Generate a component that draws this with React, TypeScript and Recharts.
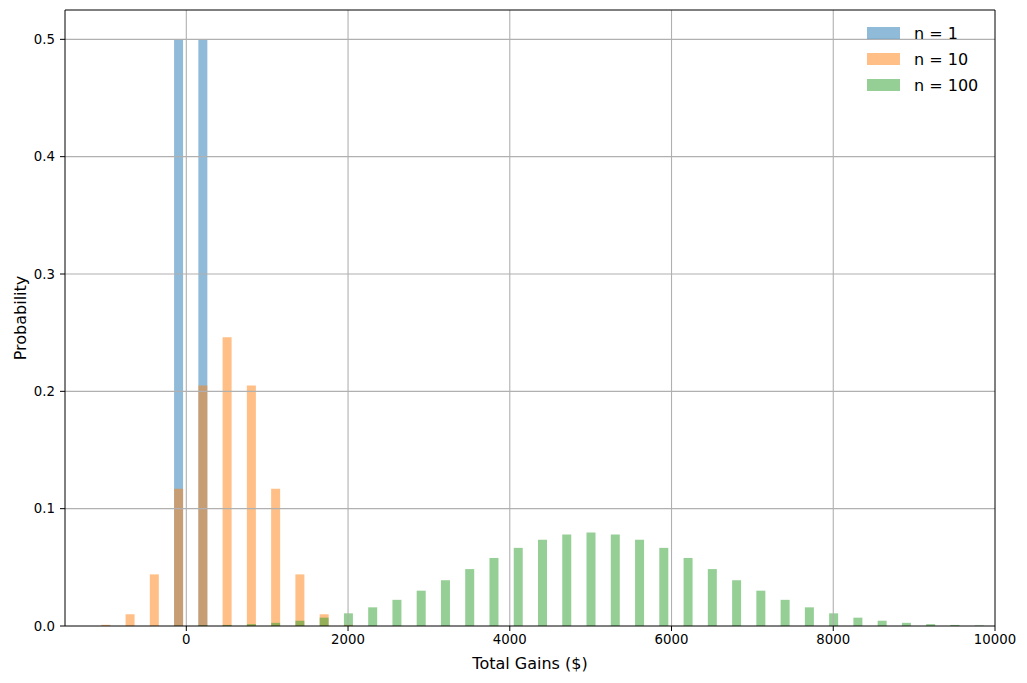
import { ComposedChart, Bar, XAxis, YAxis, ReferenceLine } from 'recharts';

// total gains for a single play
const n1Gains = [-100, 200];
const n1Prob = [0.5, 0.5];

// total gains after 10 plays
const n10Gains = [-1000, -700, -400, -100, 200, 500, 800, 1100, 1400, 1700, 2000];
const n10Prob = [0.001, 0.01, 0.044, 0.117, 0.205, 0.246, 0.205, 0.117, 0.044, 0.01, 0.001];

// total gains after 100 plays
const n100Gains = [
    -100, 200, 500, 800, 1100, 1400, 1700, 2000, 2300, 2600, 2900, 3200, 3500, 3800, 4100, 4400, 4700,
    5000, 5300, 5600, 5900, 6200, 6500, 6800, 7100, 7400, 7700, 8000, 8300, 8600, 8900, 9200, 9500, 9800,
];
const n100Prob = [
    0.0002, 0.0005, 0.0009, 0.0016, 0.0027, 0.0045, 0.0071, 0.0108, 0.0159, 0.0223, 0.0301, 0.039, 0.0485,
    0.058, 0.0666, 0.0735, 0.078, 0.0796, 0.078, 0.0735, 0.0666, 0.058, 0.0485, 0.039, 0.0301, 0.0223,
    0.0159, 0.0108, 0.0071, 0.0045, 0.0027, 0.0016, 0.0009, 0.0005,
];

const xTicks = [0, 2000, 4000, 6000, 8000, 10000];
const yTicks = [0, 0.1, 0.2, 0.3, 0.4, 0.5];
const X_DOMAIN: [number, number] = [-1500, 10000];
const Y_DOMAIN: [number, number] = [0, 0.525];

const SERIES = [
    { key: 'n1', label: 'n = 1', color: '#1f77b4' },
    { key: 'n10', label: 'n = 10', color: '#ff7f0e' },
    { key: 'n100', label: 'n = 100', color: '#2ca02c' },
];

const FONT = "'DejaVu Sans', sans-serif";
const GRID = '#b0b0b0';

function buildRows() {
    const rows: Record<number, { x: number; n1?: number; n10?: number; n100?: number }> = {};
    const put = (xs: number[], ps: number[], key: 'n1' | 'n10' | 'n100') => {
        xs.forEach((x, i) => {
            if (!rows[x]) rows[x] = { x };
            rows[x][key] = ps[i];
        });
    };
    put(n1Gains, n1Prob, 'n1');
    put(n10Gains, n10Prob, 'n10');
    put(n100Gains, n100Prob, 'n100');
    return Object.values(rows).sort((a, b) => a.x - b.x);
}

const data = buildRows();

export default function App() {
    return (
        <div style={{ position: 'absolute', left: 0, top: 0, width: 1027, height: 683, background: '#fff', fontFamily: FONT }}>
            <ComposedChart
                width={1027}
                height={683}
                data={data}
                margin={{ top: 10, right: 32, bottom: 27, left: 0 }}
                style={{ fontFamily: FONT }}
            >
                <XAxis
                    xAxisId="main"
                    dataKey="x"
                    type="number"
                    domain={X_DOMAIN}
                    allowDataOverflow
                    ticks={xTicks}
                    interval={0}
                    height={30}
                    tickSize={5}
                    tickMargin={4}
                    tick={{ fill: '#000', fontSize: 13.3 }}
                    tickLine={{ stroke: '#000' }}
                    axisLine={{ stroke: '#000' }}
                />
                {SERIES.map((s) => (
                    <XAxis
                        key={s.key}
                        xAxisId={s.key}
                        dataKey="x"
                        type="number"
                        domain={X_DOMAIN}
                        allowDataOverflow
                        hide
                    />
                ))}
                <YAxis
                    type="number"
                    domain={Y_DOMAIN}
                    allowDataOverflow
                    ticks={yTicks}
                    interval={0}
                    width={65}
                    tickSize={5}
                    tickMargin={5}
                    tickFormatter={(v: number) => v.toFixed(1)}
                    tick={{ fill: '#000', fontSize: 13.3 }}
                    tickLine={{ stroke: '#000' }}
                    axisLine={{ stroke: '#000' }}
                />
                {SERIES.map((s) => (
                    <Bar
                        key={s.key}
                        xAxisId={s.key}
                        dataKey={s.key}
                        barSize={9}
                        fill={s.color}
                        fillOpacity={0.5}
                        isAnimationActive={false}
                    />
                ))}
                {/* grid sits above the bars, like matplotlib's default */}
                {xTicks.slice(0, -1).map((t) => (
                    <ReferenceLine key={`gx-${t}`} xAxisId="main" x={t} stroke={GRID} strokeWidth={1.1} />
                ))}
                {yTicks.slice(1).map((t) => (
                    <ReferenceLine key={`gy-${t}`} xAxisId="main" y={t} stroke={GRID} strokeWidth={1.1} />
                ))}
                <ReferenceLine xAxisId="main" x={X_DOMAIN[1]} stroke="#000" />
                <ReferenceLine xAxisId="main" y={Y_DOMAIN[1]} stroke="#000" />
            </ComposedChart>

            {/* axis titles */}
            <div
                style={{
                    position: 'absolute',
                    left: 530,
                    top: 663,
                    transform: 'translate(-50%, -50%)',
                    fontSize: 16,
                    whiteSpace: 'nowrap',
                }}
            >
                Total Gains ($)
            </div>
            <div
                style={{
                    position: 'absolute',
                    left: 20,
                    top: 318,
                    transform: 'translate(-50%, -50%) rotate(-90deg)',
                    fontSize: 16,
                    whiteSpace: 'nowrap',
                }}
            >
                Probability
            </div>

            {/* legend, no frame */}
            {SERIES.map((s, i) => (
                <div
                    key={s.key}
                    style={{
                        position: 'absolute',
                        left: 867,
                        top: 20 + i * 26.2,
                        height: 26,
                        display: 'flex',
                        alignItems: 'center',
                        fontSize: 16,
                        whiteSpace: 'nowrap',
                    }}
                >
                    <div style={{ width: 33, height: 12, background: s.color, opacity: 0.5, marginRight: 14 }} />
                    <span>{s.label}</span>
                </div>
            ))}
        </div>
    );
}
